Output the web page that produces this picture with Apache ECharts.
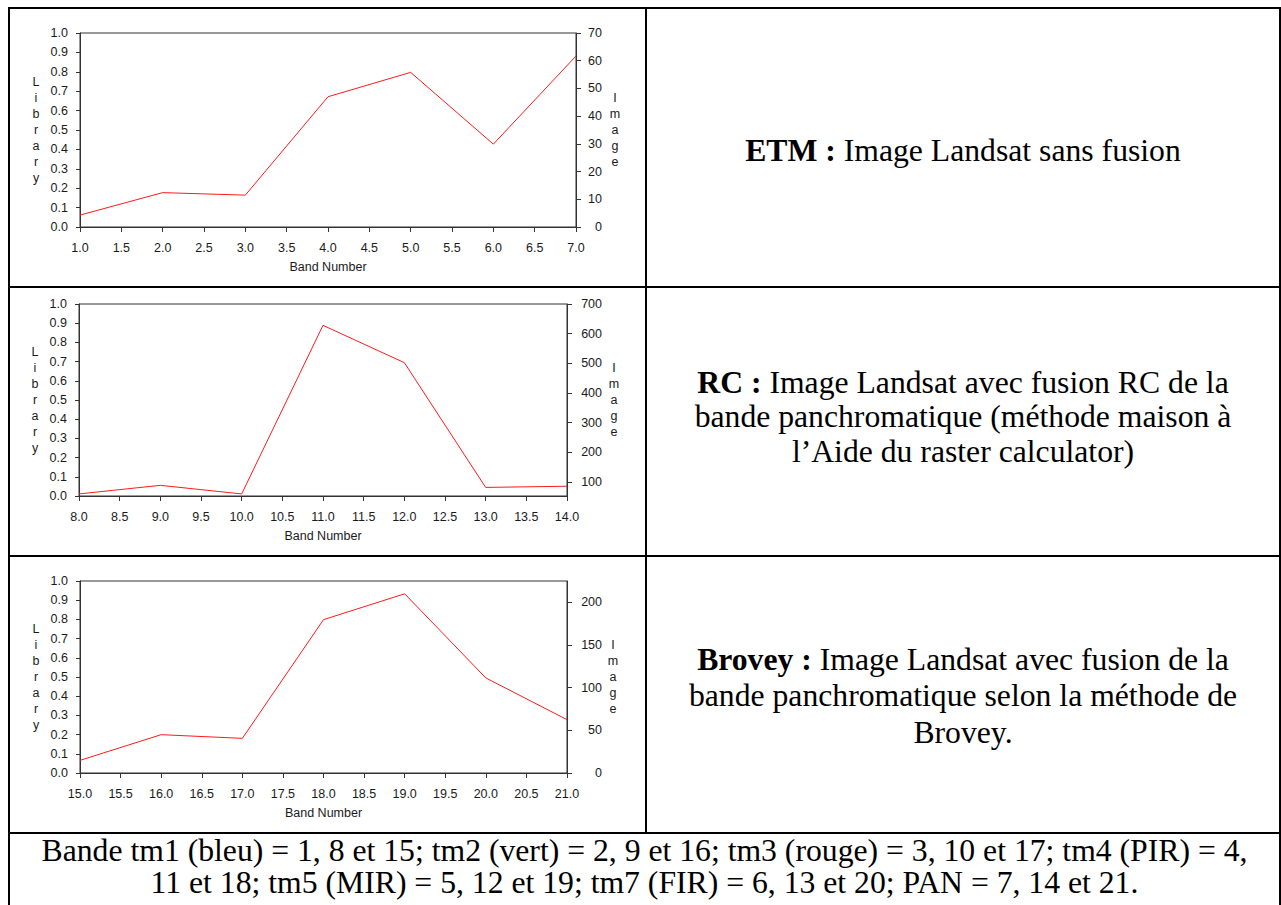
<!DOCTYPE html>
<html>
<head>
<meta charset="utf-8">
<title>Profils spectraux ETM / RC / Brovey</title>
<script src="https://cdn.jsdelivr.net/npm/echarts@6/dist/echarts.min.js"></script>
<style>
  html, body { margin: 0; padding: 0; background: #fff; }
  #page { position: relative; width: 1281px; height: 905px; overflow: hidden; }
  #chart { position: absolute; left: 0; top: 0; width: 1281px; height: 905px; }
  .rule { position: absolute; background: #000; }
  .cell {
    position: absolute;
    display: flex;
    align-items: center;
    justify-content: center;
    text-align: center;
    font-family: 'Liberation Serif', 'Times New Roman', serif;
    font-size: 31.7px;
    line-height: 35.4px;
    color: #000;
  }
</style>
</head>
<body>
<div id="page">
  <div id="chart"></div>

  <!-- table lines -->
  <div class="rule" style="left:8px;top:7px;width:1273px;height:2px"></div>
  <div class="rule" style="left:8px;top:286px;width:1273px;height:2px"></div>
  <div class="rule" style="left:8px;top:555px;width:1273px;height:2px"></div>
  <div class="rule" style="left:8px;top:832px;width:1273px;height:2px"></div>
  <div class="rule" style="left:8px;top:7px;width:2px;height:898px"></div>
  <div class="rule" style="left:645px;top:7px;width:2px;height:827px"></div>
  <div class="rule" style="left:1279px;top:7px;width:2px;height:898px"></div>

  <div class="cell" style="left:647px;top:12px;width:632px;height:277px">
    <div><b>ETM :</b> Image Landsat sans fusion</div>
  </div>
  <div class="cell" style="left:647px;top:284px;width:632px;height:267px;line-height:34.6px">
    <div><b>RC :</b> Image Landsat avec fusion RC de la<br>bande panchromatique (méthode maison à<br>l’Aide du raster calculator)</div>
  </div>
  <div class="cell" style="left:647px;top:559px;width:632px;height:275px;line-height:36.4px">
    <div><b>Brovey :</b> Image Landsat avec fusion de la<br>bande panchromatique selon la méthode de<br>Brovey.</div>
  </div>
  <div class="cell" style="left:10px;top:835px;width:1269px;height:70px;line-height:32px;align-items:flex-start">
    <div>Bande tm1 (bleu) = 1, 8 et 15; tm2 (vert) = 2, 9 et 16; tm3 (rouge) = 3, 10 et 17; tm4 (PIR) = 4,<br>11 et 18; tm5 (MIR) = 5, 12 et 19; tm7 (FIR) = 6, 13 et 20; PAN = 7, 14 et 21.</div>
  </div>
</div>

<script>
const bandsEtm = [1, 2, 3, 4, 5, 6, 7]
const imageEtm = [4.3, 12.4, 11.5, 47, 55.8, 29.9, 61.7]
const bandsRc = [8, 9, 10, 11, 12, 13, 14]
const imageRc = [59, 88, 59, 628, 502, 81, 85]
const bandsBrovey = [15, 16, 17, 18, 19, 20, 21]
const imageBrovey = [14.8, 44.9, 40.6, 179.7, 210, 111.4, 62.5]

// graduations de l'axe "Image" de chaque panneau
const imageTicksEtm = [0, 10, 20, 30, 40, 50, 60, 70]
const imageTicksRc = [100, 200, 300, 400, 500, 600, 700]
const imageTicksBrovey = [0, 50, 100, 150, 200]
const imageRangeEtm = [0, 70]
const imageRangeRc = [52, 700]
const imageRangeBrovey = [0, 225]

const libraryRange = [0, 1]
const xAxisName = 'Band Number'
const libraryName = 'Library'
const imageName = 'Image'

const panels = [
  { bands: bandsEtm, values: imageEtm, ticks: imageTicksEtm, range: imageRangeEtm,
    left: 80, top: 33, width: 496, height: 194, rightGap: 39 },
  { bands: bandsRc, values: imageRc, ticks: imageTicksRc, range: imageRangeRc,
    left: 79, top: 304, width: 488, height: 192, rightGap: 47 },
  { bands: bandsBrovey, values: imageBrovey, ticks: imageTicksBrovey, range: imageRangeBrovey,
    left: 80, top: 581, width: 487, height: 192, rightGap: 46 }
]

const axisColor = '#333'
const labelFont = {
  color: '#1a1a1a',
  fontSize: 12.5,
  fontFamily: 'Liberation Sans, Arial, sans-serif'
}
// lettres empilées verticalement, comme dans le logiciel d'origine
const stacked = s => s.split('').join('\n')

const grid = []
const xAxis = []
const yAxis = []
const series = []

panels.forEach((p, i) => {
  grid.push({
    left: p.left,
    top: p.top,
    width: p.width,
    height: p.height,
    show: true,
    borderColor: axisColor,
    borderWidth: 1,
    backgroundColor: 'transparent',
    containLabel: false,
    outerBoundsMode: 'none'
  })

  xAxis.push({
    type: 'value',
    gridIndex: i,
    min: p.bands[0],
    max: p.bands[p.bands.length - 1],
    interval: 0.5,
    axisLine: { show: true, onZero: false, lineStyle: { color: axisColor, width: 1 } },
    axisTick: { show: true, inside: false, length: 5, lineStyle: { color: axisColor } },
    axisLabel: Object.assign({ margin: 14, formatter: v => v.toFixed(1) }, labelFont),
    splitLine: { show: false },
    name: xAxisName,
    nameLocation: 'middle',
    nameGap: 33,
    nameMoveOverlap: false,
    nameTextStyle: labelFont
  })

  // axe de gauche : Library
  yAxis.push({
    type: 'value',
    gridIndex: i,
    position: 'left',
    min: libraryRange[0],
    max: libraryRange[1],
    interval: 0.1,
    axisLine: { show: true, lineStyle: { color: axisColor, width: 1 } },
    axisTick: { show: true, inside: false, length: 4, lineStyle: { color: axisColor } },
    axisLabel: Object.assign({ margin: 12, formatter: v => v.toFixed(1) }, labelFont),
    splitLine: { show: false },
    name: stacked(libraryName),
    nameLocation: 'middle',
    nameRotate: 0,
    nameGap: 44,
    nameMoveOverlap: false,
    nameTextStyle: Object.assign({ align: 'center', verticalAlign: 'middle', lineHeight: 16 }, labelFont)
  })

  // axe de droite : Image
  yAxis.push({
    type: 'value',
    gridIndex: i,
    position: 'right',
    min: p.range[0],
    max: p.range[1],
    axisLine: { show: true, lineStyle: { color: axisColor, width: 1 } },
    axisTick: { show: true, inside: false, length: 5, customValues: p.ticks, lineStyle: { color: axisColor } },
    axisLabel: Object.assign({
      margin: 602 - (p.left + p.width),
      align: 'right',
      customValues: p.ticks
    }, labelFont),
    splitLine: { show: false },
    name: stacked(imageName),
    nameLocation: 'middle',
    nameRotate: 0,
    nameGap: p.rightGap,
    nameMoveOverlap: false,
    nameTextStyle: Object.assign({ align: 'center', verticalAlign: 'middle', lineHeight: 16 }, labelFont)
  })

  series.push({
    type: 'line',
    xAxisIndex: i,
    yAxisIndex: i * 2 + 1,
    data: p.bands.map((b, k) => [b, p.values[k]]),
    symbol: 'none',
    lineStyle: { color: '#ff1a1a', width: 1 },
    silent: true
  })
})

const myChart = echarts.init(document.getElementById('chart'), null, { renderer: 'svg' })
myChart.setOption({
  animation: false,
  grid: grid,
  xAxis: xAxis,
  yAxis: yAxis,
  series: series
})
</script>
</body>
</html>
